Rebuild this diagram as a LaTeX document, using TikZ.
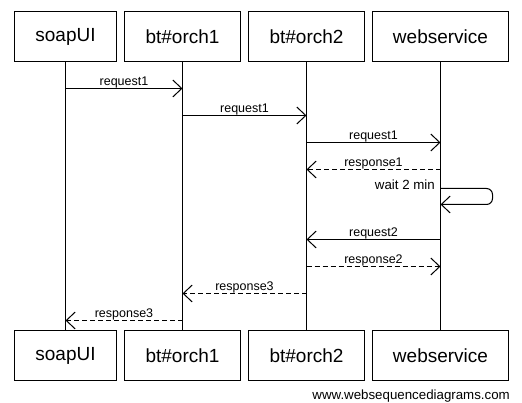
\documentclass[tikz,border=0pt]{standalone}
\usepackage{fontspec}
\setmainfont{Liberation Sans}
\usetikzlibrary{arrows.meta, positioning, calc}

\begin{document}
\begin{tikzpicture}[x=1pt, y=-1pt,
    actor/.style={draw, line width=1pt, minimum height=50pt, inner sep=0pt, font=\fontsize{19}{22}\selectfont},
    life/.style={line width=1pt},
    msg/.style={line width=1pt, -{Straight Barb[length=9pt, width=17pt]}},
    reply/.style={msg, dash pattern=on 5pt off 3pt},
    lbl/.style={font=\fontsize{12.5}{14}\selectfont, inner sep=0pt, anchor=base, yshift=3pt}]
  \useasboundingbox (0,0) rectangle (522,403);

  % participants
  \node[actor, minimum width=102pt] (soapT) at (65.5,36.5) {soapUI};
  \node[actor, minimum width=116pt] (orchAT) at (182.5,36.5) {bt\#orch1};
  \node[actor, minimum width=116pt] (orchBT) at (306.5,36.5) {bt\#orch2};
  \node[actor, minimum width=136pt] (webT) at (440.5,36.5) {webservice};
  \node[actor, minimum width=102pt] (soapB) at (65.5,355.5) {soapUI};
  \node[actor, minimum width=116pt] (orchAB) at (182.5,355.5) {bt\#orch1};
  \node[actor, minimum width=116pt] (orchBB) at (306.5,355.5) {bt\#orch2};
  \node[actor, minimum width=136pt] (webB) at (440.5,355.5) {webservice};

  % lifelines
  \draw[life] (soapT) -- (soapB);
  \draw[life] (orchAT) -- (orchAB);
  \draw[life] (orchBT) -- (orchBB);
  \draw[life] (webT) -- (webB);

  % messages
  \draw[msg] (soapT |- 0,88.5) -- node[lbl] {request1} (orchAT |- 0,88.5);
  \draw[msg] (orchAT |- 0,115.5) -- node[lbl] {request1} (orchBT |- 0,115.5);
  \draw[msg] (orchBT |- 0,142.5) -- node[lbl] {request1} (webT |- 0,142.5);
  \draw[reply] (webT |- 0,169.5) -- node[lbl] {response1} (orchBT |- 0,169.5);
  \draw[msg, rounded corners=6pt] (webT |- 0,188.5) -- ++(52,0) -- ++(0,16) -- (webT |- 0,204.5);
  \node[lbl, anchor=base east, yshift=0pt, font=\fontsize{13.3}{16}\selectfont] (wait) at (435,193) {wait 2 min};
  \draw[msg] (webT |- 0,239.5) -- node[lbl] {request2} (orchBT |- 0,239.5);
  \draw[reply] (orchBT |- 0,266.5) -- node[lbl] {response2} (webT |- 0,266.5);
  \draw[reply] (orchBT |- 0,293.5) -- node[lbl] {response3} (orchAT |- 0,293.5);
  \draw[reply] (orchAT |- 0,320.5) -- node[lbl] {response3} (soapT |- 0,320.5);

  \node[font=\fontsize{13.3}{16}\selectfont, anchor=base east, inner sep=0pt] (footer) at (510,399) {www.websequencediagrams.com};
\end{tikzpicture}
\end{document}
